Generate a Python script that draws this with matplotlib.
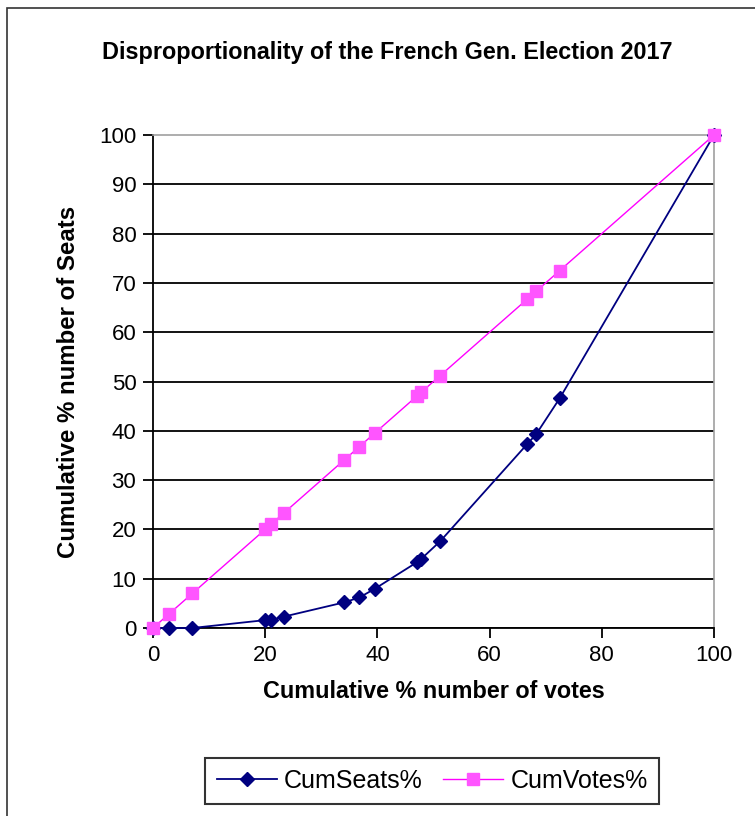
import matplotlib.pyplot as plt
from matplotlib.patches import Rectangle

plt.rcParams['font.family'] = ['Liberation Sans', 'DejaVu Sans']

# cumulative % of votes (x) and the matching cumulative % of seats / votes
cum_votes_x = [0, 2.8, 7.0, 20.0, 21.0, 23.3, 34.1, 36.8, 39.6, 47.0, 47.8, 51.2, 66.7, 68.3, 72.5, 100]
cum_seats = [0, 0, 0, 1.6, 1.6, 2.3, 5.2, 6.2, 8.0, 13.3, 14.0, 17.6, 37.3, 39.3, 46.6, 100]
cum_votes = [0, 2.8, 7.0, 20.0, 21.0, 23.3, 34.1, 36.8, 39.6, 47.0, 47.8, 51.2, 66.7, 68.3, 72.5, 100]

fig = plt.figure(figsize=(7.55, 8.16), dpi=100)
fig.patches.append(Rectangle((7 / 755, -0.1), 2, 1.1 - 8 / 816, transform=fig.transFigure,
                             fill=False, edgecolor='#333333', linewidth=1.2))

ax = fig.add_axes([153 / 755, 1 - 628 / 816, 561 / 755, 493 / 816])

ax.plot(cum_votes_x, cum_seats, color='#000080', linewidth=1.3, marker='D',
        markersize=7, markerfacecolor='#000080', markeredgecolor='#000080',
        label='CumSeats%', clip_on=False, zorder=3)
ax.plot(cum_votes_x, cum_votes, color='#FF00FF', linewidth=1.0, marker='s',
        markersize=9, markerfacecolor='#FF55FF', markeredgecolor='#FF55FF',
        label='CumVotes%', clip_on=False, zorder=4)

ax.set_xlim(0, 100)
ax.set_ylim(0, 100)
ax.set_xticks(range(0, 101, 20))
ax.set_yticks(range(0, 101, 10))
ax.yaxis.grid(True, color='black', linewidth=1.3)
ax.get_ygridlines()[-1].set_visible(False)
ax.set_axisbelow(True)
for s in ['top', 'right']:
    ax.spines[s].set_color('#A0A0A0')
    ax.spines[s].set_linewidth(1.2)
for s in ['left', 'bottom']:
    ax.spines[s].set_linewidth(1.3)
ax.tick_params(direction='out', length=7, width=1.3, labelsize=16, pad=5)

ax.set_xlabel('Cumulative % number of votes', fontsize=16.8, fontweight='bold', labelpad=10)
ax.set_ylabel('Cumulative % number of Seats', fontsize=17.3, fontweight='bold', labelpad=14)

fig.text(0.513, 1 - 53 / 816, 'Disproportionality of the French Gen. Election 2017',
         ha='center', va='center', fontsize=16.8, fontweight='bold')

leg = fig.legend(loc='center', bbox_to_anchor=(432 / 755, 1 - 781 / 816), ncol=2,
                 fontsize=18, frameon=True, fancybox=False, edgecolor='black',
                 handlelength=2.4, handletextpad=0.3, columnspacing=0.8,
                 borderpad=0.45)
leg.get_frame().set_linewidth(1.5)

fig.savefig('out.png', dpi=100)
